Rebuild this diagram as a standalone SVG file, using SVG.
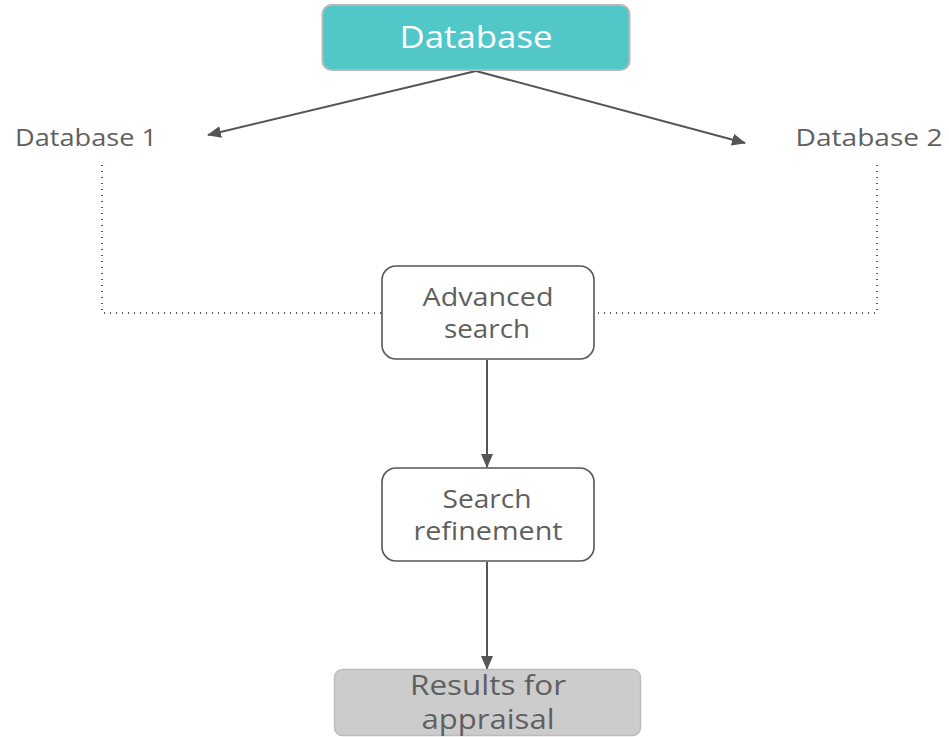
<svg xmlns="http://www.w3.org/2000/svg" width="949" height="737" viewBox="0 0 949 737">
<style>
text{font-family:"Open Sans","Noto Sans","Liberation Sans",sans-serif;fill:#5f5f5f;text-anchor:middle}
.box{fill:#fff;stroke:#555;stroke-width:1.6}
.edge{stroke:#555;stroke-width:2;fill:none}
.dot{stroke:#555;stroke-width:2;stroke-dasharray:1 5;fill:none}
</style>
<defs>
<marker id="ah" viewBox="0 0 14 12" refX="13" refY="6" markerWidth="14" markerHeight="12" markerUnits="userSpaceOnUse" orient="auto">
<path d="M0,0 L14,6 L0,12 z" fill="#555"/>
</marker>
</defs>
<g id="connectors">
<line class="edge" x1="476" y1="71" x2="208" y2="135" marker-end="url(#ah)"/>
<line class="edge" x1="476" y1="71" x2="745" y2="143" marker-end="url(#ah)"/>
<polyline class="dot" points="102,165 102,313 381,313"/>
<polyline class="dot" points="877,165 877,313 597,313"/>
<line class="edge" x1="487" y1="360" x2="487" y2="467" marker-end="url(#ah)"/>
<line class="edge" x1="487" y1="562" x2="487" y2="669" marker-end="url(#ah)"/>
</g>
<g id="database">
<rect x="322.5" y="5" width="307" height="65" rx="9" fill="#52c7c7" stroke="#b8b8b8" stroke-width="2"/>
<text x="476" y="48" font-size="31" textLength="153" lengthAdjust="spacingAndGlyphs" style="fill:#fff">Database</text>
</g>
<g id="database1">
<text x="86" y="146" font-size="24" textLength="142" lengthAdjust="spacingAndGlyphs">Database 1</text>
</g>
<g id="database2">
<text x="869" y="146" font-size="24" textLength="147" lengthAdjust="spacingAndGlyphs">Database 2</text>
</g>
<g id="advanced-search">
<rect class="box" x="382" y="266" width="212" height="93" rx="14"/>
<text x="488" y="306" font-size="25" textLength="131" lengthAdjust="spacingAndGlyphs">Advanced</text>
<text x="487" y="338" font-size="25" textLength="86" lengthAdjust="spacingAndGlyphs">search</text>
</g>
<g id="search-refinement">
<rect class="box" x="382" y="468" width="212" height="93" rx="14"/>
<text x="487" y="508" font-size="25" textLength="89" lengthAdjust="spacingAndGlyphs">Search</text>
<text x="488" y="540" font-size="25" textLength="149" lengthAdjust="spacingAndGlyphs">refinement</text>
</g>
<g id="results">
<rect x="334.5" y="669.5" width="306" height="66" rx="8" fill="#cccccc" stroke="#bbbbbb" stroke-width="1.5"/>
<text x="488" y="695" font-size="27" textLength="156" lengthAdjust="spacingAndGlyphs">Results for</text>
<text x="488" y="729" font-size="27" textLength="133" lengthAdjust="spacingAndGlyphs">appraisal</text>
</g>
</svg>
